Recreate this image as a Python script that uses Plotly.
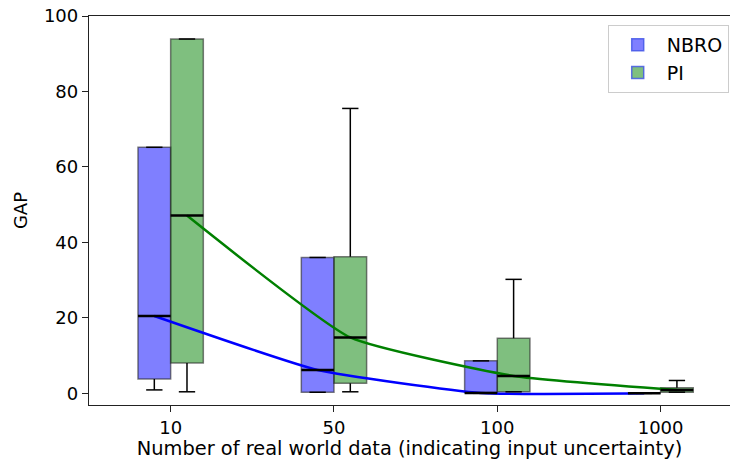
import plotly.graph_objects as go

categories = ["10", "50", "100", "1000"]

nbro_low = [0.9, 0.27, 0.0, 0.0]
nbro_q1 = [3.8, 0.27, 0.2, 0.0]
nbro_med = [20.5, 6.2, 0.1, 0.0]
nbro_q3 = [65.2, 36.0, 8.6, 0.0]
nbro_high = [65.2, 36.0, 8.6, 0.0]

pi_low = [0.4, 0.4, 0.4, 0.3]
pi_q1 = [8.0, 2.65, 0.4, 0.3]
pi_med = [47.1, 14.8, 4.6, 0.9]
pi_q3 = [93.9, 36.2, 14.6, 1.5]
pi_high = [93.9, 75.5, 30.2, 3.4]

pos = list(range(len(categories)))
BW = 0.2
FONT = "DejaVu Sans"

fig = go.Figure()

series = [
    ("NBRO", -BW / 2, nbro_low, nbro_q1, nbro_med, nbro_q3, nbro_high,
     "rgba(0,0,255,0.5)", "#0000ff"),
    ("PI", BW / 2, pi_low, pi_q1, pi_med, pi_q3, pi_high,
     "rgba(0,128,0,0.5)", "#008000"),
]

# trend lines through medians (drawn beneath boxes)
for name, off, lo, q1, med, q3, hi, fill, lc in series:
    fig.add_trace(go.Scatter(
        x=[p + off for p in pos], y=med, mode="lines",
        line=dict(color=lc, width=2.5, shape="spline", smoothing=0.45),
        showlegend=False, hoverinfo="skip"))

# boxes
for name, off, lo, q1, med, q3, hi, fill, lc in series:
    fig.add_trace(go.Bar(
        x=[p + off for p in pos], y=[b - a for a, b in zip(q1, q3)], base=q1,
        width=BW, marker=dict(color=fill, line=dict(color="rgba(40,40,40,0.6)", width=1.5)),
        name=name, showlegend=False))

# legend-only entries
for name, off, lo, q1, med, q3, hi, fill, lc in series:
    fig.add_trace(go.Bar(
        x=[None], y=[None], name=name,
        marker=dict(color=fill, line=dict(color="rgba(60,80,230,0.8)", width=1.5)),
        showlegend=True))

# whiskers, caps, medians
for name, off, lo, q1, med, q3, hi, fill, lc in series:
    wx, wy, mx, my = [], [], [], []
    for p, a, b, c, d, e in zip(pos, lo, q1, med, q3, hi):
        cx = p + off
        wx += [cx, cx, None, cx, cx, None,
               cx - BW / 4, cx + BW / 4, None, cx - BW / 4, cx + BW / 4, None]
        wy += [a, b, None, d, e, None, a, a, None, e, e, None]
        mx += [cx - BW / 2, cx + BW / 2, None]
        my += [c, c, None]
    fig.add_trace(go.Scatter(x=wx, y=wy, mode="lines",
                             line=dict(color="black", width=1.5),
                             showlegend=False, hoverinfo="skip"))
    fig.add_trace(go.Scatter(x=mx, y=my, mode="lines",
                             line=dict(color="black", width=2.5),
                             showlegend=False, hoverinfo="skip"))

fig.update_layout(
    width=730, height=460,
    margin=dict(l=89, r=0, t=16, b=55),
    plot_bgcolor="white", paper_bgcolor="white",
    barmode="overlay",
    font=dict(family=FONT, size=18, color="black"),
    legend=dict(x=0.998, y=0.977, xanchor="right", yanchor="top",
                bordercolor="#cccccc", borderwidth=1, itemwidth=48,
                bgcolor="rgba(255,255,255,0.8)", font=dict(size=19)),
    xaxis=dict(
        range=[-0.5, 3.425], tickvals=pos, ticktext=categories,
        showline=True, linecolor="#222", linewidth=1.3, mirror=True,
        ticks="outside", ticklen=6, tickcolor="#222", showgrid=False, zeroline=False,
        tickfont=dict(size=18),
        title=dict(text="Number of real world data (indicating input uncertainty)",
                   font=dict(size=19.4), standoff=3)),
    yaxis=dict(
        range=[-3.1, 100], tickvals=[0, 20, 40, 60, 80, 100],
        showline=True, linecolor="#222", linewidth=1.3,
        ticks="outside", ticklen=6, tickcolor="#222", showgrid=False, zeroline=False,
        tickfont=dict(size=18),
        title=dict(text="GAP", font=dict(size=18), standoff=11)),
)

fig.write_html(
    "out.html",
    config={"displayModeBar": False},
    post_script="document.body.style.margin='0';document.body.style.overflow='hidden';",
)
